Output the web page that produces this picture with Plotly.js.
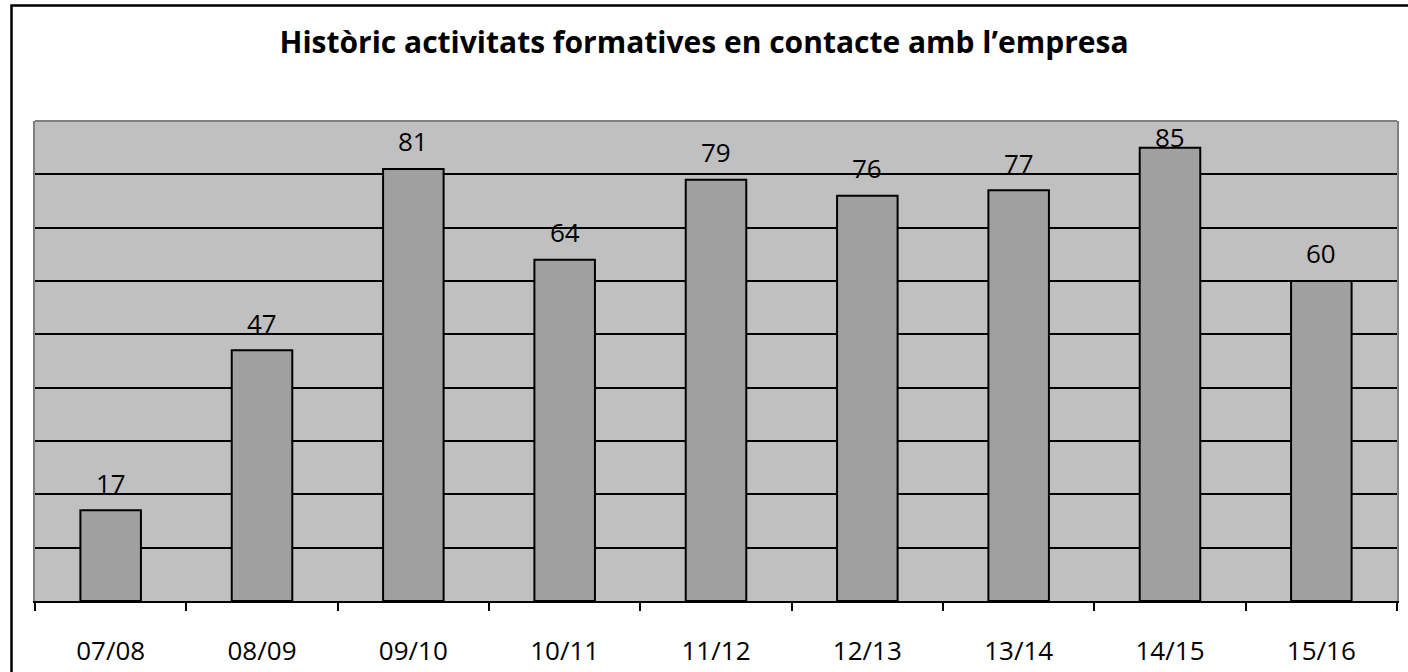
<!DOCTYPE html>
<html>
<head>
<meta charset="utf-8">
<script src="https://cdn.plot.ly/plotly-3.0.1.min.js"></script>
<style>
html,body{margin:0;padding:0;background:#fff;}
#chart{width:1408px;height:672px;}
</style>
</head>
<body>
<div id="chart"></div>
<script>
const categories = ["07/08","08/09","09/10","10/11","11/12","12/13","13/14","14/15","15/16"];
const values = [17, 47, 81, 64, 79, 76, 77, 85, 60];
const chartTitle = "Històric activitats formatives en contacte amb l’empresa";

const FONT = "Open Sans, Noto Sans, sans-serif";

const trace = {
  type: "bar",
  x: categories,
  y: values,
  marker: {color: "#a0a0a0", line: {color: "#000000", width: 2}},
  hoverinfo: "skip"
};

const annotations = categories.map((c, i) => ({
  x: c,
  y: Math.min(values[i] + 5.2, 87.0),
  xref: "x", yref: "y",
  text: String(values[i]),
  showarrow: false,
  yanchor: "middle",
  font: {family: FONT, size: 26, color: "#000"}
}));

const layout = {
  width: 1408, height: 672,
  margin: {l: 35, r: 11, t: 121, b: 71},
  paper_bgcolor: "#ffffff",
  plot_bgcolor: "#c0c0c0",
  showlegend: false,
  bargap: 0.6,
  title: {
    text: "<b>" + chartTitle + "</b>",
    font: {family: FONT, size: 30, color: "#000"},
    x: 0.5, xanchor: "center",
    y: 1 - 42/672, yref: "container", yanchor: "middle"
  },
  xaxis: {
    type: "category",
    showline: true, linecolor: "#000", linewidth: 2,
    ticks: "outside", ticklen: 8, tickwidth: 2, tickcolor: "#000",
    tickson: "boundaries",
    ticklabelstandoff: 26,
    tickfont: {family: FONT, size: 26, color: "#000"},
    showgrid: false, zeroline: false, fixedrange: true
  },
  yaxis: {
    range: [0, 90], dtick: 10, tick0: 0,
    showticklabels: false, ticks: "",
    showgrid: true, gridcolor: "#000", gridwidth: 1.8,
    zeroline: false,
    showline: true, mirror: true, linecolor: "#808080", linewidth: 2,
    fixedrange: true
  },
  annotations: annotations,
  shapes: [
    {type: "line", xref: "paper", yref: "paper", x0: 0, x1: 1, y0: 1, y1: 1,
     line: {color: "#808080", width: 2}, layer: "above"},
    {type: "rect", xref: "paper", yref: "paper",
     x0: (11.5 - 35) / 1362, x1: 1.05, y0: -0.3, y1: (601 - 5.5) / 480,
     line: {color: "#000", width: 2.5}, fillcolor: "rgba(0,0,0,0)", layer: "above"}
  ]
};

Plotly.newPlot("chart", [trace], layout, {displayModeBar: false, staticPlot: true});
</script>
</body>
</html>
